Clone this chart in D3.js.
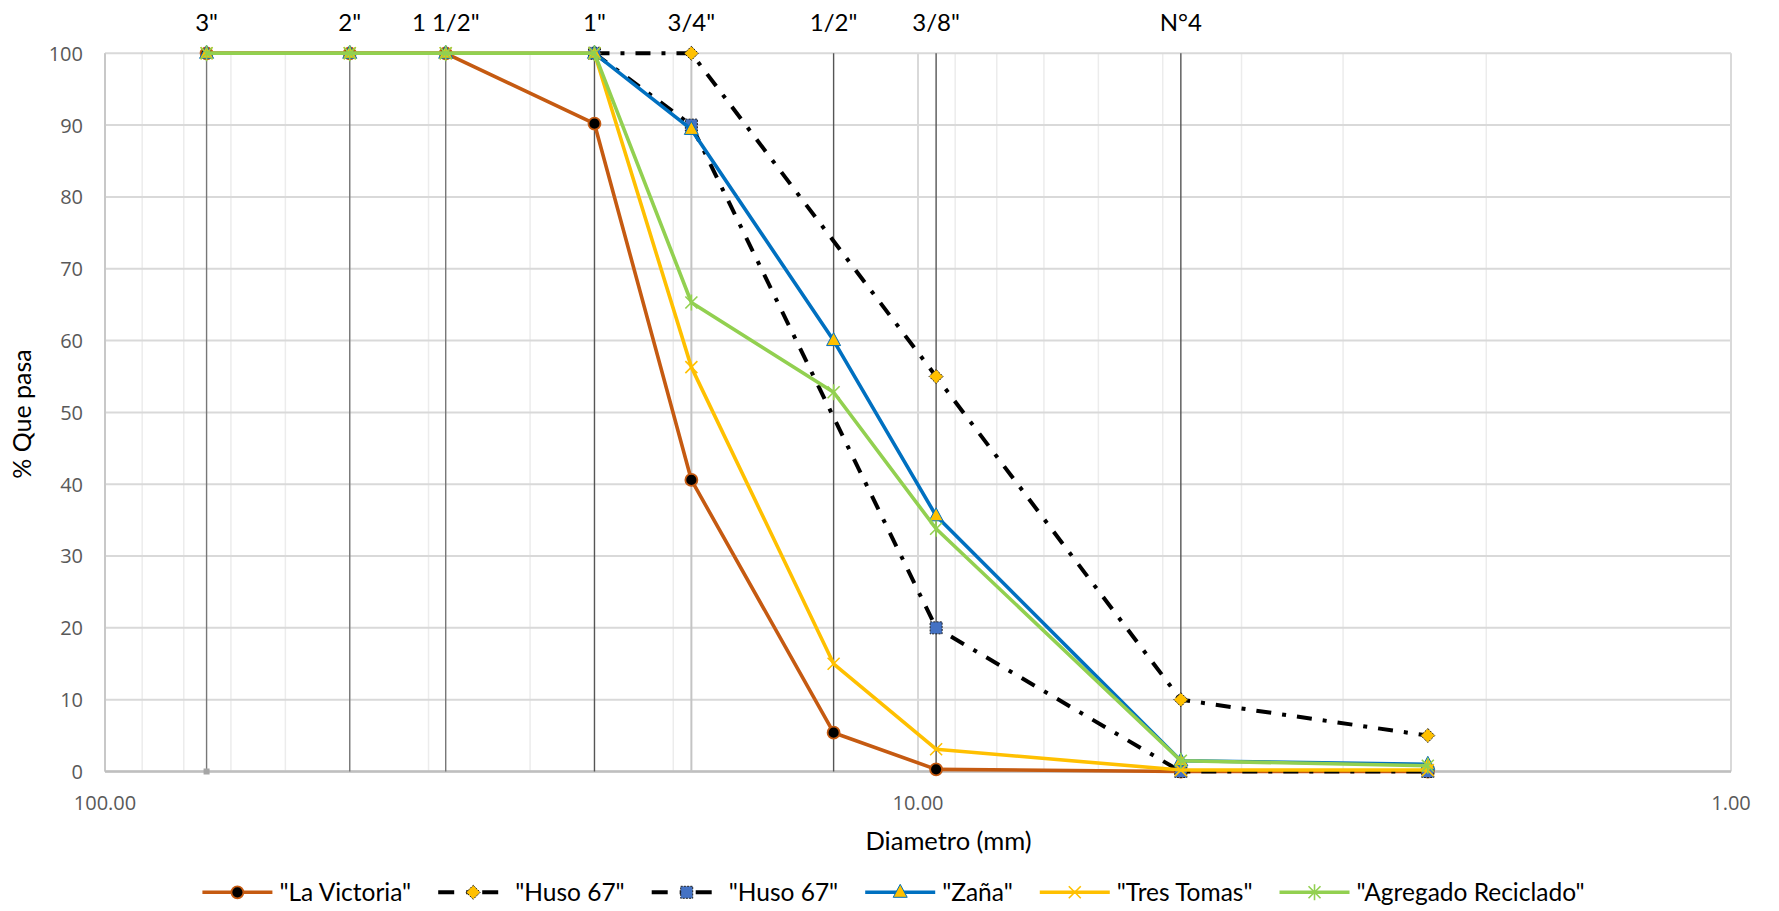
<!DOCTYPE html>
<html>
<head>
<meta charset="utf-8">
<script src="https://cdn.jsdelivr.net/npm/d3@7"></script>
<style>
  body { margin: 0; background: #fff; }
  svg text { font-family: Lato, "Open Sans", sans-serif; }
</style>
</head>
<body>
<div id="chart"></div>
<script>
// sieve openings (mm) and their names
const sieveNames = ['3"', '2"', '1 1/2"', '1"', '3/4"', '1/2"', '3/8"', 'N°4', ''];
const sieveSizes = [75, 50, 38.1, 25, 19, 12.7, 9.5, 4.75, 2.36];

// % passing for each sieve
const laVictoria = [100, 100, 100, 90.2, 40.6, 5.4, 0.3, 0, 0];
const husoMax = [null, null, null, 100, 100, null, 55, 10, 5];
const husoMin = [null, null, null, 100, 90, null, 20, 0, 0];
const zana = [100, 100, 100, 100, 89.4, 60, 35.6, 1.5, 1.0];
const tresTomas = [100, 100, 100, 100, 56.3, 15, 3.1, 0.2, 0.2];
const reciclado = [100, 100, 100, 100, 65.3, 52.8, 33.8, 1.5, 0.8];

const seriesNames = ['"La Victoria"', '"Huso 67"', '"Huso 67"', '"Zaña"', '"Tres Tomas"', '"Agregado Reciclado"'];

const yTicks = [0, 10, 20, 30, 40, 50, 60, 70, 80, 90, 100];
const xTicks = [100, 10, 1];
const xMinor = [90, 80, 70, 60, 50, 40, 30, 20, 9, 8, 7, 6, 5, 4, 3, 2];

const dims = { width: 1779, height: 911, left: 105, right: 1731, top: 53.3, bottom: 771.5 };

const series = [
  { name: seriesNames[0], values: laVictoria, color: "#C55A11", dash: null, marker: "circle", fill: "#000", mstroke: "#C55A11" },
  { name: seriesNames[1], values: husoMax, color: "#000", dash: "15,11,4,11", marker: "diamond", fill: "#FFC000", mstroke: "#222" },
  { name: seriesNames[2], values: husoMin, color: "#000", dash: "15,11,4,11", marker: "square", fill: "#4472C4", mstroke: "#222" },
  { name: seriesNames[3], values: zana, color: "#0070C0", dash: null, marker: "triangle", fill: "#FFC000", mstroke: "#0070C0" },
  { name: seriesNames[4], values: tresTomas, color: "#FFC000", dash: null, marker: "x", fill: "none", mstroke: "#FFC000" },
  { name: seriesNames[5], values: reciclado, color: "#92D050", dash: null, marker: "star", fill: "none", mstroke: "#92D050" }
];

const x = d3.scaleLog().domain([100, 1]).range([dims.left, dims.right]);
const y = d3.scaleLinear().domain([0, 100]).range([dims.bottom, dims.top]);

const svg = d3.select("#chart").append("svg")
  .attr("width", dims.width)
  .attr("height", dims.height);

// minor log grid
svg.append("g")
  .selectAll("line")
  .data(xMinor)
  .join("line")
  .attr("x1", d => x(d)).attr("x2", d => x(d))
  .attr("y1", dims.top).attr("y2", dims.bottom)
  .attr("stroke", "#ececec").attr("stroke-width", 1.5);

// major vertical grid
svg.append("g")
  .selectAll("line")
  .data(xTicks)
  .join("line")
  .attr("x1", d => x(d)).attr("x2", d => x(d))
  .attr("y1", dims.top).attr("y2", dims.bottom)
  .attr("stroke", "#d9d9d9").attr("stroke-width", 2);

// horizontal grid
svg.append("g")
  .selectAll("line")
  .data(yTicks)
  .join("line")
  .attr("x1", dims.left).attr("x2", dims.right)
  .attr("y1", d => y(d)).attr("y2", d => y(d))
  .attr("stroke", "#d9d9d9").attr("stroke-width", 2);

// axis lines
svg.append("line")
  .attr("x1", dims.left).attr("x2", dims.left)
  .attr("y1", dims.top).attr("y2", dims.bottom)
  .attr("stroke", "#c8c8c8").attr("stroke-width", 2);
svg.append("line")
  .attr("x1", dims.left).attr("x2", dims.right)
  .attr("y1", y(0)).attr("y2", y(0))
  .attr("stroke", "#bfbfbf").attr("stroke-width", 2.5);

// sieve lines and names
const sieves = sieveNames.map((n, i) => ({ name: n, size: sieveSizes[i] })).filter(d => d.name !== "");
svg.append("g")
  .selectAll("line")
  .data(sieves)
  .join("line")
  .attr("x1", d => x(d.size)).attr("x2", d => x(d.size))
  .attr("y1", y(100)).attr("y2", y(0))
  .attr("stroke", d => d.name === '3/4"' ? "#c4c4c4" : (d.size > 30 ? "#777" : "#555"))
  .attr("stroke-width", d => d.name === '3/4"' ? 2 : 1.4);

svg.append("rect")
  .attr("x", x(sieveSizes[0]) - 3).attr("y", y(0) - 3)
  .attr("width", 6).attr("height", 6)
  .attr("fill", "#a6a6a6");

svg.append("g")
  .selectAll("text")
  .data(sieves)
  .join("text")
  .attr("x", d => x(d.size))
  .attr("y", 30.7)
  .attr("text-anchor", "middle")
  .attr("font-size", 24)
  .attr("fill", "#000")
  .text(d => d.name);

// y tick labels
svg.append("g")
  .selectAll("text")
  .data(yTicks)
  .join("text")
  .attr("x", 83)
  .attr("y", d => y(d) + 7.4)
  .attr("text-anchor", "end")
  .attr("font-size", 20)
  .style("font-family", "'Open Sans', sans-serif")
  .attr("fill", "#595959")
  .text(d => d);

// x tick labels
svg.append("g")
  .selectAll("text")
  .data(xTicks)
  .join("text")
  .attr("x", d => x(d))
  .attr("y", 810)
  .attr("text-anchor", "middle")
  .attr("font-size", 20)
  .style("font-family", "'Open Sans', sans-serif")
  .attr("fill", "#595959")
  .text(d3.format(".2f"));

// axis titles
svg.append("text")
  .attr("x", 948.5).attr("y", 850)
  .attr("text-anchor", "middle")
  .attr("font-size", 25.5)
  .text("Diametro (mm)");
svg.append("text")
  .attr("transform", "translate(31,414) rotate(-90)")
  .attr("text-anchor", "middle")
  .attr("font-size", 25)
  .text("% Que pasa");

function markerPath(type) {
  switch (type) {
    case "diamond": return "M0,-7L7,0L0,7L-7,0Z";
    case "square": return "M-6,-6H6V6H-6Z";
    case "triangle": return "M0,-8L7,5L-7,5Z";
    case "x": return "M-6,-6L6,6M-6,6L6,-6";
    case "star": return "M-6,-6L6,6M-6,6L6,-6M0,-8V8";
  }
}

function drawMarker(g, s) {
  if (s.marker === "circle") {
    g.append("circle").attr("r", 6)
      .attr("fill", s.fill).attr("stroke", s.mstroke).attr("stroke-width", 1.8);
  } else {
    g.append("path").attr("d", markerPath(s.marker))
      .attr("fill", s.fill).attr("stroke", s.mstroke)
      .attr("stroke-width", s.fill === "none" ? 1.6 : 1)
      .attr("stroke-dasharray", s.mstroke === "#222" ? "2,1.2" : null);
  }
}

const line = d3.line().x(d => x(d.size)).y(d => y(d.v));

series.forEach(s => {
  const pts = s.values.map((v, i) => ({ size: sieveSizes[i], v: v })).filter(d => d.v != null);
  const g = svg.append("g");
  g.append("path")
    .attr("d", line(pts))
    .attr("fill", "none")
    .attr("stroke", s.color)
    .attr("stroke-width", s.dash ? 4 : 3.6)
    .attr("stroke-dasharray", s.dash)
    .attr("stroke-linejoin", "round");
  g.selectAll("g.m")
    .data(pts)
    .join("g")
    .attr("class", "m")
    .attr("transform", d => `translate(${x(d.size)},${y(d.v)})`)
    .each(function () { drawMarker(d3.select(this), s); });
});

// legend
const legend = svg.append("g");
const items = legend.selectAll("g")
  .data(series)
  .join("g");
items.append("line")
  .attr("x1", 0).attr("x2", 70)
  .attr("y1", 0).attr("y2", 0)
  .attr("stroke", d => d.color)
  .attr("stroke-width", d => d.dash ? 4 : 3.6)
  .attr("stroke-dasharray", d => d.dash ? "16,12,4,12" : null);
items.append("g")
  .attr("transform", "translate(35,0)")
  .each(function (d) { drawMarker(d3.select(this), d); });
items.append("text")
  .attr("x", 77).attr("y", 8.5)
  .attr("font-size", 24.5)
  .attr("fill", "#000")
  .text(d => d.name);

let cx = 0;
items.each(function () {
  const w = this.querySelector("text").getComputedTextLength();
  d3.select(this).attr("transform", `translate(${cx},0)`);
  cx += 77 + w + 27;
});
const total = cx - 27;
legend.attr("transform", `translate(${893.5 - total / 2},892.3)`);
</script>
</body>
</html>
